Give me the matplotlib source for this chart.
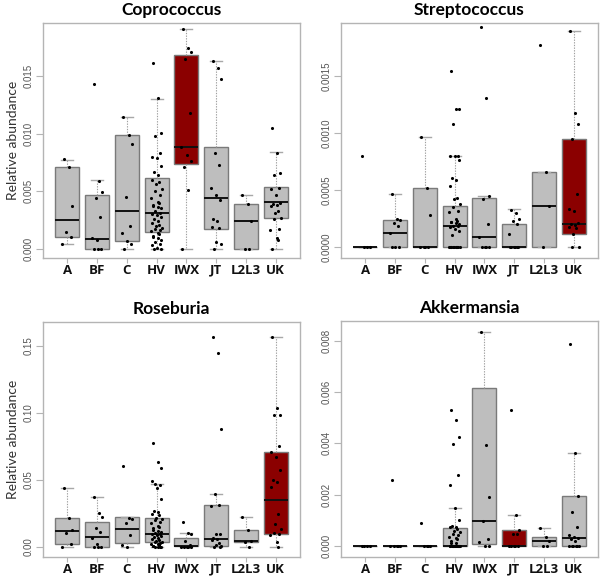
import matplotlib
matplotlib.use("Agg")
import matplotlib.pyplot as plt

categories = ["A", "BF", "C", "HV", "IWX", "JT", "L2L3", "UK"]

# ---------------- Coprococcus ----------------
cop_q1 = [0.00105, 0.0, 0.00064, 0.00142, 0.00734, 0.00174, 0.0, 0.00264]
cop_med = [0.00254, 0.00087, 0.00325, 0.00308, 0.00882, 0.00444, 0.0024, 0.00406]
cop_q3 = [0.0071, 0.00464, 0.0099, 0.00612, 0.01683, 0.00888, 0.0039, 0.00534]
cop_lo = [0.00044, 0.0, 0.0, 0.0, 0.0, 0.0, 0.0, 0.0]
cop_hi = [0.0077, 0.00595, 0.0115, 0.01306, 0.0191, 0.01634, 0.0047, 0.0084]
cop_points = [
    [0.0078, 0.0071, 0.0037, 0.00146, 0.00105, 0.00044],
    [0.0143, 0.0059, 0.0049, 0.0044, 0.0028, 0.0009, 0.0008, 0.0, 0.0, 0.0],
    [0.0115, 0.0099, 0.0091, 0.0045, 0.0020, 0.00133, 0.0007, 0.0004, 0.0],
    [0.0162, 0.0131, 0.0101, 0.0098, 0.0083, 0.0080, 0.0079, 0.0072, 0.0067, 0.0064,
     0.0060, 0.0058, 0.0056, 0.0052, 0.0050, 0.0047, 0.0044, 0.0041, 0.0040, 0.0038,
     0.0037, 0.0036, 0.0035, 0.0033, 0.0031, 0.0030, 0.0029, 0.0028, 0.0026, 0.0024,
     0.0022, 0.0021, 0.0020, 0.0018, 0.0017, 0.0016, 0.0015, 0.0014, 0.0013, 0.0011,
     0.0010, 0.0009, 0.0008, 0.0006, 0.0004, 0.0003, 0.0001, 0.0, 0.0],
    [0.0191, 0.01744, 0.01712, 0.01648, 0.01184, 0.00885, 0.0082, 0.00763, 0.0071, 0.0051, 0.0],
    [0.0163, 0.0157, 0.0148, 0.0083, 0.0073, 0.0053, 0.0047, 0.0042, 0.0026, 0.0024,
     0.0019, 0.0018, 0.0006, 0.0004, 0.0],
    [0.0047, 0.0039, 0.0024, 0.0, 0.0],
    [0.0105, 0.0083, 0.0066, 0.0064, 0.0053, 0.0052, 0.0047, 0.0040, 0.0039, 0.0038,
     0.0037, 0.0033, 0.0031, 0.0027, 0.0026, 0.0017, 0.0016, 0.0009, 0.0008, 0.0],
]

# ---------------- Streptococcus ----------------
str_q1 = [0.0, 0.0, 0.0, 0.0, 0.0, 0.0, 0.0, 0.000114]
str_med = [0.0, 0.000126, 0.0, 0.00019, 0.000094, 0.0, 0.000365, 0.000205]
str_q3 = [0.0, 0.000237, 0.000518, 0.000365, 0.000436, 0.000208, 0.00066, 0.000947]
str_lo = [0.0, 0.0, 0.0, 0.0, 0.0, 0.0, 0.0, 0.0]
str_hi = [0.0, 0.000465, 0.000965, 0.0008, 0.00045, 0.000333, 0.00066, 0.0019]
str_points = [
    [0.0008, 0.0, 0.0, 0.0],
    [0.000465, 0.000246, 0.00024, 0.000216, 0.000187, 0.000126, 0.0, 0.0, 0.0],
    [0.000965, 0.000518, 0.000284, 0.0, 0.0, 0.0, 0.0],
    [0.00155, 0.00121, 0.00121, 0.00108, 0.0008, 0.0008, 0.0008, 0.00077, 0.00061, 0.00059,
     0.00054, 0.00043, 0.00042, 0.00038, 0.00035, 0.00032, 0.00031, 0.00025, 0.00023, 0.00022,
     0.00022, 0.00021, 0.00020, 0.00019, 0.00019, 0.00018, 0.00016, 0.00014, 0.00011,
     0.0, 0.0, 0.0, 0.0, 0.0, 0.0, 0.0, 0.0, 0.0, 0.0, 0.0, 0.0],
    [0.00193, 0.00131, 0.00045, 0.00042, 0.0002, 0.00009, 0.0, 0.0, 0.0, 0.0],
    [0.00033, 0.0003, 0.00025, 0.00023, 0.0002, 0.00012, 0.0, 0.0, 0.0, 0.0, 0.0, 0.0],
    [0.001775, 0.00066, 0.000365, 0.0],
    [0.0019, 0.001175, 0.00108, 0.00095, 0.000465, 0.00034, 0.00032, 0.000216, 0.0002,
     0.000196, 0.00018, 0.000173, 0.000114, 0.0, 0.0],
]

# ---------------- Roseburia ----------------
ros_q1 = [0.002, 0.0, 0.003, 0.0037, 0.0005, 0.0005, 0.0037, 0.0099]
ros_med = [0.0117, 0.0072, 0.0136, 0.0099, 0.0005, 0.0057, 0.0042, 0.0352]
ros_q3 = [0.0216, 0.0184, 0.0223, 0.0216, 0.0067, 0.0317, 0.0129, 0.0712]
ros_lo = [0.0, 0.0, 0.0, 0.0, 0.0, 0.0, 0.0, 0.0]
ros_hi = [0.0439, 0.0377, 0.0223, 0.047, 0.0104, 0.0394, 0.0223, 0.157]
ros_points = [
    [0.044, 0.0216, 0.0129, 0.0104, 0.002, 0.0],
    [0.0377, 0.0253, 0.0228, 0.0144, 0.0109, 0.0069, 0.0025, 0.0, 0.0, 0.0],
    [0.0605, 0.0218, 0.0206, 0.0179, 0.0087, 0.0012, 0.0],
    [0.0776, 0.0637, 0.0588, 0.047, 0.046, 0.049, 0.044, 0.036, 0.027, 0.026,
     0.025, 0.024, 0.022, 0.021, 0.020, 0.019, 0.018, 0.016, 0.015, 0.014,
     0.013, 0.012, 0.011, 0.0105, 0.010, 0.0095, 0.009, 0.008, 0.0075, 0.007,
     0.006, 0.005, 0.0045, 0.004, 0.0035, 0.003, 0.0025, 0.002, 0.0015, 0.001,
     0.0005, 0.0, 0.0, 0.0, 0.0],
    [0.019, 0.0104, 0.0094, 0.0045, 0.0012, 0.0, 0.0, 0.0, 0.0, 0.0],
    [0.157, 0.145, 0.0885, 0.0394, 0.0317, 0.031, 0.0099, 0.0094, 0.0067, 0.0057,
     0.005, 0.003, 0.0012, 0.0005, 0.0, 0.0],
    [0.0223, 0.0129, 0.0042, 0.0037, 0.0],
    [0.157, 0.1037, 0.0985, 0.0985, 0.0751, 0.0712, 0.0675, 0.0575, 0.0501, 0.0489,
     0.0446, 0.0248, 0.0174, 0.0136, 0.0107, 0.0099, 0.0092, 0.0037, 0.0],
]

# ---------------- Akkermansia ----------------
akk_q1 = [0.0, 0.0, 0.0, 0.0, 0.00005, 0.0, 0.0, 0.0]
akk_med = [0.0, 0.0, 0.0, 0.0, 0.00095, 0.0, 0.0002, 0.0003]
akk_q3 = [0.0, 0.0, 0.0, 0.00068, 0.00616, 0.00062, 0.00036, 0.00196]
akk_lo = [0.0, 0.0, 0.0, 0.0, 0.0, 0.0, 0.0, 0.0]
akk_hi = [0.0, 0.0, 0.0, 0.00148, 0.00836, 0.0012, 0.00069, 0.00362]
akk_points = [
    [0.0, 0.0, 0.0, 0.0],
    [0.00257, 0.0, 0.0, 0.0, 0.0, 0.0],
    [0.0009, 0.0, 0.0, 0.0, 0.0],
    [0.0053, 0.0049, 0.00423, 0.00397, 0.00277, 0.00239, 0.00148, 0.00101, 0.00079, 0.00075,
     0.00072, 0.00065, 0.00058, 0.00052, 0.00045, 0.0004, 0.00035, 0.0003, 0.00025, 0.0002,
     0.00012, 0.0001, 0.0, 0.0, 0.0, 0.0, 0.0, 0.0, 0.0, 0.0, 0.0, 0.0, 0.0, 0.0, 0.0, 0.0],
    [0.00836, 0.00395, 0.0019, 0.00095, 0.00025, 0.00014, 0.0, 0.0],
    [0.0053, 0.0012, 0.00062, 0.00047, 0.00044, 0.0, 0.0, 0.0, 0.0, 0.0],
    [0.0007, 0.00036, 0.0002, 0.0, 0.0],
    [0.00787, 0.00362, 0.00196, 0.0013, 0.00073, 0.0004, 0.00036, 0.0003, 0.00025, 0.0002,
     0.0, 0.0, 0.0, 0.0, 0.0, 0.0],
]

panels = [
    dict(title="Coprococcus", q1=cop_q1, med=cop_med, q3=cop_q3, lo=cop_lo, hi=cop_hi,
         pts=cop_points, red=4, ylim=(-0.00081, 0.01965),
         yticks=[0, 0.005, 0.010, 0.015], ylabels=["0.000", "0.005", "0.010", "0.015"],
         rect=(43, 23, 300, 258), ylab=True),
    dict(title="Streptococcus", q1=str_q1, med=str_med, q3=str_q3, lo=str_lo, hi=str_hi,
         pts=str_points, red=7, ylim=(-0.000094, 0.001968),
         yticks=[0, 0.0005, 0.0010, 0.0015], ylabels=["0.0000", "0.0005", "0.0010", "0.0015"],
         rect=(341, 23, 598, 258), ylab=False),
    dict(title="Roseburia", q1=ros_q1, med=ros_med, q3=ros_q3, lo=ros_lo, hi=ros_hi,
         pts=ros_points, red=7, ylim=(-0.0074, 0.168),
         yticks=[0, 0.05, 0.10, 0.15], ylabels=["0.00", "0.05", "0.10", "0.15"],
         rect=(43, 322, 300, 557), ylab=True),
    dict(title="Akkermansia", q1=akk_q1, med=akk_med, q3=akk_q3, lo=akk_lo, hi=akk_hi,
         pts=akk_points, red=5, ylim=(-0.00044, 0.00878),
         yticks=[0, 0.002, 0.004, 0.006, 0.008],
         ylabels=["0.000", "0.002", "0.004", "0.006", "0.008"],
         rect=(341, 321, 598, 557), ylab=False),
]

jitter = [-0.12, 0.06, 0.16, -0.04, 0.11, -0.17, 0.01, 0.14, -0.09, 0.04,
          -0.14, 0.09, -0.02, 0.18, -0.07, 0.12, -0.19, 0.03, 0.07, -0.11]

W, H = 600, 579
fig = plt.figure(figsize=(W / 100, H / 100), dpi=100)
fig.patch.set_facecolor("white")

GREY_FILL = "#bebebe"
RED_FILL = "#8b0000"
EDGE = "#7a7a7a"
FRAME = "#b4b4b4"

for p in panels:
    x0, y0, x1, y1 = p["rect"]
    ax = fig.add_axes([x0 / W, 1 - y1 / H, (x1 - x0) / W, (y1 - y0) / H])
    stats = []
    for i in range(len(categories)):
        stats.append(dict(med=p["med"][i], q1=p["q1"][i], q3=p["q3"][i],
                          whislo=p["lo"][i], whishi=p["hi"][i], fliers=[]))
    positions = list(range(1, len(categories) + 1))
    bp = ax.bxp(stats, positions=positions, widths=0.8, patch_artist=True,
                showfliers=False,
                boxprops=dict(edgecolor=EDGE, linewidth=1.0),
                medianprops=dict(color="#111111", linewidth=1.4),
                whiskerprops=dict(color="#a0a0a0", linewidth=0.8, linestyle=(0, (1.2, 1.2))),
                capprops=dict(color="#a8a8a8", linewidth=1.0),
                capwidths=0.4)
    for i, box in enumerate(bp["boxes"]):
        box.set_facecolor(RED_FILL if i == p["red"] else GREY_FILL)
        box.set_zorder(2)
    for m in bp["medians"]:
        m.set_zorder(3)
    for i, vals in enumerate(p["pts"]):
        xs = [positions[i] + jitter[k % len(jitter)] for k in range(len(vals))]
        ax.scatter(xs, vals, s=5, color="black", zorder=4, linewidths=0)

    ax.set_xlim(0.18, 8.82)
    ax.set_ylim(*p["ylim"])
    ax.set_xticks(positions)
    ax.set_xticklabels(categories)
    for lab in ax.get_xticklabels():
        lab.set_fontfamily("Open Sans")
        lab.set_fontweight("bold")
        lab.set_fontsize(9.5)
        lab.set_color("#111111")
    ax.set_yticks(p["yticks"])
    ax.set_yticklabels(p["ylabels"], rotation=90, va="center", ha="right",
                       fontfamily="Liberation Sans", fontsize=7, color="#555555")
    ax.tick_params(axis="y", length=5, width=0.8, color=FRAME, pad=2)
    ax.tick_params(axis="x", length=3.5, width=0.8, color=FRAME, pad=0.5)
    for sp in ax.spines.values():
        sp.set_color(FRAME)
        sp.set_linewidth(1.0)
    ax.set_title(p["title"], fontfamily="Lato", fontweight="bold", fontsize=12.5,
                 color="black", pad=6)
    if p["ylab"]:
        ax.set_ylabel("Relative abundance", fontfamily="Lato", fontsize=10,
                      color="#333333", labelpad=3)

fig.savefig("out.png", dpi=100, facecolor="white")
